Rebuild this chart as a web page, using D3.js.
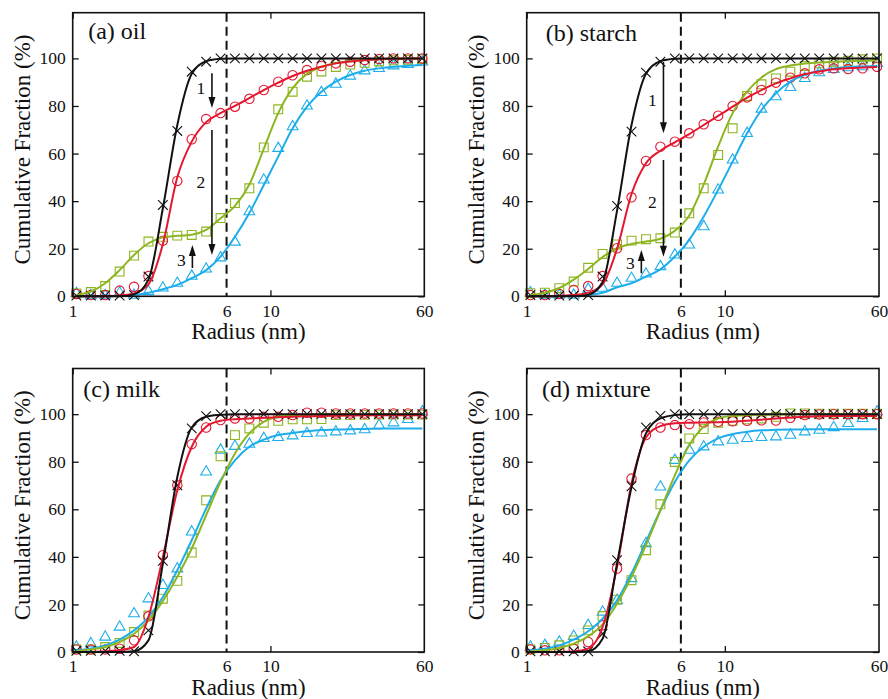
<!DOCTYPE html>
<html>
<head>
<meta charset="utf-8">
<script src="https://cdn.jsdelivr.net/npm/d3@7"></script>
<style>
body { margin: 0; background: #fff; }
svg text { font-family: "Liberation Serif", "Times New Roman", Times, "DejaVu Serif", serif !important; fill: #111; }
</style>
</head>
<body>
<script>
// radius grid of the measured points (nm)
const radius = [1.044, 1.235, 1.460, 1.727, 2.043, 2.416, 2.858, 3.381, 3.999, 4.730, 5.594, 6.615, 7.824,
  9.254, 10.95, 12.95, 15.31, 18.11, 21.42, 25.33, 29.97, 35.44, 41.92, 49.58, 58.64];

const xLabels = [1, 6, 10, 60];
const xMajor = [1, 10];
const xMinor = [2, 3, 4, 5, 6, 7, 8, 9, 20, 30, 40, 50];
const yMajor = [0, 20, 40, 60, 80, 100];
const yMinor = [10, 30, 50, 70, 90, 110];

// (a) oil
const oilCross = [0.3, 0.3, 0.3, 0.3, 0.5, 8.3, 38.4, 69.5, 94.4, 98.6, 100, 100, 100, 100, 100, 100, 100, 100, 100, 100, 100, 100, 100, 100, 100];
const oilCrossFit = [0, 0, 0, 0, 0.8, 7, 37, 72, 93.5, 98.8, 99.8, 100, 100, 100, 100, 100, 100, 100, 100, 100, 100, 100, 100, 100, 100];
const oilRed = [1, 0.5, 0.5, 2.4, 4, 8.5, 23.4, 48.5, 66, 74.5, 77, 79.7, 83, 86.7, 90.2, 92.9, 95.1, 96.8, 97.9, 98.6, 99.3, 99.7, 100, 100, 100];
const oilRedFit = [0, 0, 0, 0.3, 1.2, 5, 22, 50, 65, 73.2, 77, 80, 83.3, 86.7, 89.8, 92.6, 94.8, 96.5, 97.9, 98.7, 99.2, 99.6, 99.8, 99.9, 100];
const oilGreen = [1.2, 1.8, 4.3, 10.4, 17.1, 23.0, 25.0, 25.5, 25.8, 27.2, 32.9, 39.2, 45.4, 62.6, 78.6, 86, 92.3, 94.5, 96.4, 97.4, 98.1, 98.7, 99.2, 99.4, 99.7];
const oilGreenFit = [0.6, 2, 5.5, 11, 17.4, 22.3, 24.8, 25.4, 25.9, 27.9, 32.8, 38, 47, 62, 77, 87.5, 93.5, 96.5, 98, 98.8, 99.3, 99.6, 99.8, 99.9, 100];
const oilBlue = [1.2, 0.3, 0.3, 1.5, 0.5, 2, 3.5, 5.5, 8.5, 11.5, 16.2, 22.8, 35.6, 48.9, 62.2, 71.3, 80, 85.7, 89.2, 92.6, 94.8, 95.8, 96.9, 97.5, 98.5];
const oilBlueFit = [0, 0, 0.1, 0.2, 0.5, 1.5, 3, 4.8, 7.6, 11, 16.7, 25, 35, 46.8, 58.7, 70.6, 79.7, 86, 90.2, 93, 94.8, 95.8, 96.5, 96.9, 97.2];

// (b) starch
const starchCross = [0.5, 0.5, 0.3, 0.3, 0.5, 8.3, 38, 69.2, 94, 98.6, 100, 100, 100, 100, 100, 100, 100, 100, 100, 100, 100, 100, 100, 100, 100];
const starchCrossFit = [0, 0, 0, 0, 0.6, 6, 36, 72, 93.5, 98.8, 99.8, 100, 100, 100, 100, 100, 100, 100, 100, 100, 100, 100, 100, 100, 100];
const starchRed = [0.5, 0.5, 1, 2.7, 4.3, 8.5, 20.2, 41.6, 56.9, 62.9, 65, 68.5, 72.3, 75.9, 80, 83.6, 86.7, 89.8, 91.9, 93.7, 95.4, 95.8, 95.5, 95.8, 96.5];
const starchRedFit = [0, 0, 0.2, 0.5, 1.5, 5, 20, 43, 55.9, 61.2, 64.7, 68.2, 72, 75.8, 79.7, 83.5, 86.7, 89.5, 91.6, 93.4, 94.5, 95.4, 95.9, 96.2, 96.4];
const starchGreen = [1.3, 1.5, 3.4, 6.2, 12, 17.8, 21.8, 23.4, 24, 24.4, 26.8, 34.9, 45.4, 59.4, 70.6, 84.2, 89.1, 91.6, 94.4, 96.8, 97.9, 98.6, 99, 99.6, 100];
const starchGreenFit = [0.5, 1.5, 3.5, 7, 11.5, 16.5, 20.2, 22, 23, 24.2, 27.5, 34, 47, 63, 77, 86, 92, 95.5, 97, 97.8, 98.3, 98.6, 98.8, 99, 99.1];
const starchBlue = [1.5, 0.5, 0.5, 0.5, 3, 3.4, 5.5, 7.6, 9.4, 12.5, 17.4, 21.6, 29.3, 44.7, 57.3, 68.5, 78.7, 83.9, 87.8, 91.6, 94, 95.4, 96.1, 96.5, 98];
const starchBlueFit = [0, 0, 0.1, 0.2, 0.5, 1.5, 3.8, 5.5, 8.3, 11.3, 16.7, 23.7, 33.5, 44.7, 56.6, 68.5, 78.3, 85.3, 90.2, 93, 94.8, 95.8, 96.4, 96.6, 96.8];

// (c) milk
const milkCross = [0.5, 0.5, 0.5, 0.5, 0.3, 9.1, 38.3, 70.1, 94, 99.2, 100, 100, 100, 100, 100, 100, 100, 100, 100, 100, 100, 100, 100, 100, 100];
const milkCrossFit = [0, 0, 0, 0, 0.3, 4.9, 37.2, 73.6, 94.4, 98.9, 99.7, 100, 100, 100, 100, 100, 100, 100, 100, 100, 100, 100, 100, 100, 100];
const milkRed = [1.1, 1, 1.1, 1.4, 4.9, 15, 40.7, 70.1, 87.4, 94.4, 97.5, 98.2, 98.2, 98.9, 98.9, 99.6, 100.6, 100.6, 100.3, 100.3, 100.3, 100.3, 100.3, 100.3, 100.3];
const milkRedFit = [0, 0, 0.2, 0.8, 2.1, 14.7, 40, 68, 86.3, 94.7, 97.2, 97.9, 98.2, 98.5, 98.7, 98.9, 99.1, 99.2, 99.3, 99.4, 99.5, 99.5, 99.5, 99.5, 99.5];
const milkGreen = [1.1, 1.1, 2.1, 3.8, 8.4, 15.4, 22.4, 29.9, 41.8, 63.8, 82.3, 91.2, 94, 96.4, 97.2, 97.8, 97.8, 97.9, 99.6, 99.6, 99.7, 99.8, 99.8, 99.8, 99.8];
const milkGreenFit = [0.4, 1.1, 2.1, 4.2, 7.7, 13.3, 21.5, 31.6, 43.5, 57.5, 71.5, 83.5, 91.9, 96.8, 98.9, 99.6, 99.8, 99.9, 100, 100, 100, 100, 100, 100, 100];
const milkBlue = [2.1, 3.5, 6.3, 10.5, 16.1, 22.4, 28, 35, 50.5, 75.7, 84.9, 86.5, 87.4, 89.8, 90.2, 90.9, 91.9, 92.1, 92.6, 93, 93.5, 95.4, 96.4, 97.8, 101];
const milkBlueFit = [0.7, 1.4, 2.8, 5.2, 9.1, 14.7, 23.1, 34.4, 47, 60.3, 72.2, 80.6, 86.3, 89.3, 91.2, 92.1, 92.8, 93.3, 93.5, 93.7, 93.8, 93.9, 94, 94, 94];

// (d) mixture
const mixCross = [0.3, 0.3, 0.3, 0.3, 0.3, 7.7, 38.6, 69.7, 94.4, 99.3, 100, 100, 100, 100, 100, 100, 100, 100, 100, 100, 100, 100, 100, 100, 100];
const mixCrossFit = [0, 0, 0, 0, 0.3, 5.6, 37.2, 69.4, 91.9, 98.2, 99.6, 100, 100, 100, 100, 100, 100, 100, 100, 100, 100, 100, 100, 100, 100];
const mixRed = [1.1, 0.7, 0.7, 1.4, 4.2, 11.2, 35.1, 72.9, 91.2, 94.4, 95.4, 95.8, 96.5, 96.8, 97, 97.2, 97.4, 97.3, 98.5, 99.6, 99.9, 100, 100, 100, 100];
const mixRedFit = [0, 0, 0, 0.2, 1.4, 10.5, 35.8, 70.8, 90.2, 95, 96.2, 96.4, 96.5, 96.6, 96.8, 97.2, 97.7, 98.2, 98.6, 98.9, 99.1, 99.2, 99.2, 99.2, 99.2];
const mixGreen = [1.1, 1.7, 2.8, 4.9, 9.1, 15.1, 22, 30.2, 42.8, 62.1, 79.9, 89.8, 93.7, 96.4, 97.2, 97.8, 98.2, 98.9, 100.3, 100.3, 100.2, 100.2, 100.2, 100.2, 100.2];
const mixGreenFit = [0.3, 0.7, 1.7, 3.5, 6.6, 11.6, 20.3, 31.6, 44.9, 59.6, 74.3, 87, 94.7, 98.2, 99.3, 99.7, 99.8, 99.9, 100, 100, 100, 100, 100, 100, 100];
const mixBlue = [2.1, 2.8, 4.2, 6.6, 11.2, 16.8, 21.7, 30.9, 45.6, 69.4, 80.6, 84.9, 86.3, 88.4, 89.1, 89.8, 90.2, 90.5, 91.2, 92.6, 93.3, 94.4, 96.1, 98.2, 101];
const mixBlueFit = [0.7, 1.4, 2.8, 5.2, 8.7, 14, 21.7, 33, 46.3, 59.6, 71.5, 80.6, 86.3, 89.8, 91.6, 92.6, 93.2, 93.4, 93.5, 93.6, 93.7, 93.7, 93.7, 93.7, 93.7];

// arrows: radius, from, to, label, label y
const oilArrows = [[5.06, 93.8, 79.1, '1', 87.5], [5.06, 69.9, 17.4, '2', 48], [4.03, 11.9, 21.6, '3', 15.3]];
const starchArrows = [[4.9, 98.5, 68.5, '1', 82.5], [4.9, 57.3, 16.6, '2', 39.7], [3.79, 9.7, 19.5, '3', 14]];

const RED = '#e3172f', GREEN = '#8db521', BLUE = '#1cadea', BLACK = '#111';
const SERIF = '"Liberation Serif", "Times New Roman", Times, "DejaVu Serif", serif';

const W = 888, H = 699;
const svg = d3.select('body').append('svg').attr('width', W).attr('height', H);

const panels = [
  { title: '(a) oil', box: [72.7, 12.7, 424.3, 296.3], lab: [15.5, 26.5],
    data: [oilBlue, oilBlueFit, oilGreen, oilGreenFit, oilRed, oilRedFit, oilCross, oilCrossFit], arrows: oilArrows },
  { title: '(b) starch', box: [526.7, 12.7, 879, 296.3], lab: [19, 28.5],
    data: [starchBlue, starchBlueFit, starchGreen, starchGreenFit, starchRed, starchRedFit, starchCross, starchCrossFit], arrows: starchArrows },
  { title: '(c) milk', box: [72.7, 368.5, 424.3, 652], lab: [10.6, 28.5],
    data: [milkBlue, milkBlueFit, milkGreen, milkGreenFit, milkRed, milkRedFit, milkCross, milkCrossFit], arrows: [] },
  { title: '(d) mixture', box: [526.7, 368.5, 879, 652], lab: [15.3, 28.5],
    data: [mixBlue, mixBlueFit, mixGreen, mixGreenFit, mixRed, mixRedFit, mixCross, mixCrossFit], arrows: [] }
];

const styles = [
  { color: BLUE, sym: d3.symbol(d3.symbolTriangle, 50)() },
  { color: GREEN, sym: d3.symbol(d3.symbolSquare, 78)() },
  { color: RED, sym: d3.symbol(d3.symbolCircle, Math.PI * 4.7 * 4.7)() },
  { color: BLACK, sym: 'M-4.8,-4.8L4.8,4.8M-4.8,4.8L4.8,-4.8' }
];

panels.forEach(p => {
  const [x0, y0, x1, y1] = p.box;
  const x = d3.scaleLog().domain([1, 60]).range([x0, x1]);
  const y = d3.scaleLinear().domain([0, 119.2]).range([y1, y0]);
  const g = svg.append('g');

  // axes with inward ticks
  const bottom = g.append('g').attr('transform', `translate(0,${y1})`);
  bottom.call(d3.axisBottom(x).tickValues(xMinor).tickSize(-4).tickFormat(''));
  bottom.call(d3.axisBottom(x).tickValues(xMajor).tickSize(-6).tickFormat(''));
  g.append('g').attr('transform', `translate(0,${y1})`)
    .call(d3.axisBottom(x).tickValues(xLabels).tickSize(0).tickPadding(8).tickFormat(d3.format('d')));
  const top = g.append('g').attr('transform', `translate(0,${y0})`);
  top.call(d3.axisTop(x).tickValues(xMinor).tickSize(-4).tickFormat(''));
  top.call(d3.axisTop(x).tickValues(xMajor).tickSize(-6).tickFormat(''));

  const left = g.append('g').attr('transform', `translate(${x0},0)`);
  left.call(d3.axisLeft(y).tickValues(yMinor).tickSize(-4).tickFormat(''));
  left.call(d3.axisLeft(y).tickValues(yMajor).tickSize(-6).tickPadding(7).tickFormat(d3.format('d')));
  const right = g.append('g').attr('transform', `translate(${x1},0)`);
  right.call(d3.axisRight(y).tickValues(yMinor).tickSize(-4).tickFormat(''));
  right.call(d3.axisRight(y).tickValues(yMajor).tickSize(-6).tickFormat(''));

  g.selectAll('.domain').remove();
  g.selectAll('.tick line').attr('stroke', '#111').attr('stroke-width', 1.3);
  g.selectAll('.tick text').style('font-size', '17.5px').attr('fill', '#111');

  // dashed line at 6 nm
  g.append('line')
    .attr('x1', x(6)).attr('x2', x(6)).attr('y1', y0).attr('y2', y1)
    .attr('stroke', '#111').attr('stroke-width', 2).attr('stroke-dasharray', '9,5');

  const plot = g.append('g');
  const line = d3.line().x((d, i) => x(radius[i])).y(d => y(d)).curve(d3.curveMonotoneX);

  // markers
  styles.forEach((s, k) => {
    plot.append('g').selectAll('path')
      .data(p.data[2 * k])
      .enter().append('path')
      .attr('d', s.sym)
      .attr('transform', (d, i) => `translate(${x(radius[i])},${y(d)})`)
      .attr('fill', 'none')
      .attr('stroke', s.color)
      .attr('stroke-width', 1.1);
  });
  // fitted curves
  styles.forEach((s, k) => {
    plot.append('path')
      .datum(p.data[2 * k + 1])
      .attr('d', line)
      .attr('fill', 'none')
      .attr('stroke', s.color)
      .attr('stroke-width', 2);
  });

  // arrows
  p.arrows.forEach(a => {
    const ax = x(a[0]), ya = y(a[1]), yb = y(a[2]);
    const dir = yb > ya ? 1 : -1;
    g.append('line')
      .attr('x1', ax).attr('x2', ax).attr('y1', ya).attr('y2', yb - dir * 8)
      .attr('stroke', '#111').attr('stroke-width', 1.6);
    g.append('path')
      .attr('d', `M${ax},${yb}L${ax - 3.5},${yb - dir * 11}L${ax + 3.5},${yb - dir * 11}Z`)
      .attr('fill', '#111');
    g.append('text')
      .attr('x', ax - 11).attr('y', y(a[4]))
      .attr('dy', '0.35em')
      .attr('text-anchor', 'middle')
      .style('font-size', '17.5px')
      .text(a[3]);
  });

  // frame
  g.append('rect')
    .attr('x', x0).attr('y', y0).attr('width', x1 - x0).attr('height', y1 - y0)
    .attr('fill', 'none').attr('stroke', '#111').attr('stroke-width', 1.6);

  // labels
  g.append('text')
    .attr('x', x0 + p.lab[0]).attr('y', y0 + p.lab[1])
    .style('font-size', '24px')
    .text(p.title);

  g.append('text')
    .attr('x', (x0 + x1) / 2).attr('y', y1 + 43)
    .attr('text-anchor', 'middle')
    .style('font-size', '23px')
    .text('Radius (nm)');

  g.append('text')
    .attr('transform', `translate(${x0 - 43},${(y0 + y1) / 2 - 5})rotate(-90)`)
    .attr('text-anchor', 'middle')
    .style('font-size', '23px')
    .text('Cumulative Fraction (%)');
});

svg.selectAll('text').attr('font-family', SERIF).style('font-family', SERIF);
</script>
</body>
</html>
